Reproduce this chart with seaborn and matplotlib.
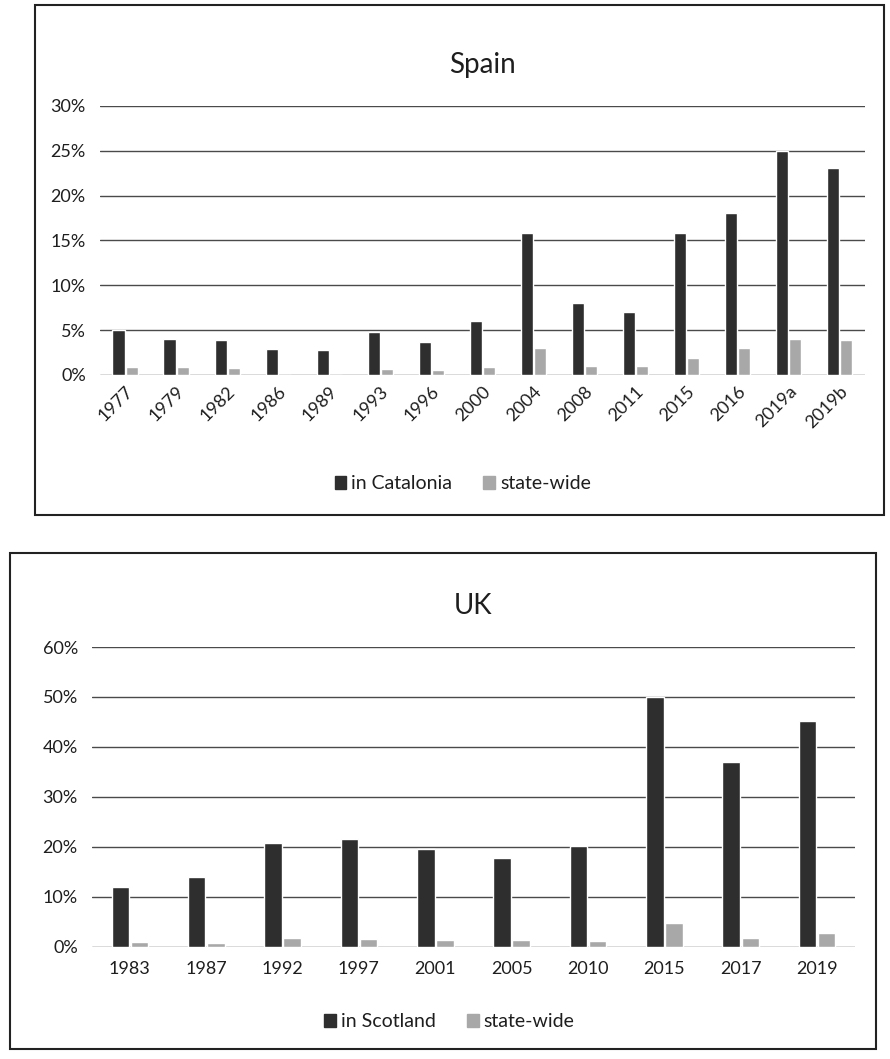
import matplotlib
matplotlib.use("Agg")
import matplotlib.pyplot as plt
import matplotlib.patches as mpatches
import seaborn as sns
import pandas as pd
from matplotlib.ticker import FuncFormatter, MultipleLocator

# ---- data ----
spain_years = ["1977", "1979", "1982", "1986", "1989", "1993", "1996", "2000",
               "2004", "2008", "2011", "2015", "2016", "2019a", "2019b"]
spain_catalonia = [5.0, 4.0, 3.9, 2.9, 2.8, 4.8, 3.7, 6.0,
                   15.8, 8.0, 7.0, 15.8, 18.0, 25.0, 23.1]
spain_statewide = [0.9, 0.9, 0.8, 0.0, 0.0, 0.7, 0.5, 0.9,
                   3.0, 1.0, 1.0, 1.9, 3.0, 4.0, 3.9]

uk_years = ["1983", "1987", "1992", "1997", "2001", "2005", "2010", "2015", "2017", "2019"]
uk_scotland = [12.0, 14.0, 20.8, 21.6, 19.6, 17.8, 20.2, 50.0, 37.0, 45.2]
uk_statewide = [1.0, 0.8, 1.8, 1.6, 1.4, 1.3, 1.1, 4.7, 1.8, 2.7]

spain_series = ["in Catalonia", "state-wide"]
uk_series = ["in Scotland", "state-wide"]

DARK = "#2e2e2e"
LIGHT = "#a8a8a8"
GRID = "#4a4a4a"
TXT = "#1e1e1e"

sns.set_theme(style="white")
plt.rcParams["font.family"] = ["Lato", "DejaVu Sans"]

fig = plt.figure(figsize=(8.90, 10.59), dpi=100)
fig.patch.set_facecolor("white")

def long_df(years, a, b, names):
    return pd.DataFrame({
        "year": years + years,
        "value": a + b,
        "series": [names[0]] * len(years) + [names[1]] * len(years),
    })

def style_axes(ax, ymax, step):
    ax.set_ylim(0, ymax)
    ax.yaxis.set_major_locator(MultipleLocator(step))
    ax.yaxis.set_major_formatter(FuncFormatter(lambda v, p: f"{v:.0f}%"))
    ax.grid(axis="y", color=GRID, linewidth=1.0)
    ax.set_axisbelow(True)
    for s in ax.spines.values():
        s.set_visible(False)
    ax.set_xlabel("")
    ax.set_ylabel("")
    ax.tick_params(axis="both", length=0, labelsize=13, colors=TXT, pad=10)

# ---- Spain ----
ax1 = fig.add_axes([0.112, 0.646, 0.860, 0.254])
df1 = long_df(spain_years, spain_catalonia, spain_statewide, spain_series)
sns.barplot(data=df1, x="year", y="value", hue="series",
            palette=[DARK, LIGHT], width=0.52, gap=0.08, ax=ax1,
            saturation=1, errorbar=None)
style_axes(ax1, 30, 5)
ax1.set_xlim(-0.5, len(spain_years) - 0.5)
for lab in ax1.get_xticklabels():
    lab.set_rotation(45)
    lab.set_ha("right")
    lab.set_rotation_mode("anchor")
ax1.tick_params(axis="x", pad=6)
ax1.set_title("Spain", fontsize=20, color=TXT, pad=24)
ax1.legend_.remove()
h1 = [mpatches.Patch(color=DARK), mpatches.Patch(color=LIGHT)]
fig.legend(h1, spain_series, loc="center", bbox_to_anchor=(0.52, 0.543),
           ncol=2, frameon=False, fontsize=14, handlelength=0.6, handleheight=0.6,
           handletextpad=0.25, columnspacing=1.6, labelcolor=TXT)

# ---- UK ----
ax2 = fig.add_axes([0.103, 0.106, 0.858, 0.283])
df2 = long_df(uk_years, uk_scotland, uk_statewide, uk_series)
sns.barplot(data=df2, x="year", y="value", hue="series",
            palette=[DARK, LIGHT], width=0.50, gap=0.08, ax=ax2,
            saturation=1, errorbar=None)
style_axes(ax2, 60, 10)
ax2.set_xlim(-0.5, len(uk_years) - 0.5)
ax2.set_title("UK", fontsize=20, color=TXT, pad=24)
ax2.legend_.remove()
h2 = [mpatches.Patch(color=DARK), mpatches.Patch(color=LIGHT)]
fig.legend(h2, uk_series, loc="center", bbox_to_anchor=(0.505, 0.035),
           ncol=2, frameon=False, fontsize=14, handlelength=0.6, handleheight=0.6,
           handletextpad=0.25, columnspacing=1.6, labelcolor=TXT)

# ---- panel frames ----
fig.add_artist(mpatches.Rectangle((0.039, 0.514), 0.954, 0.481, transform=fig.transFigure,
                                  fill=False, edgecolor="#222222", linewidth=1.5))
fig.add_artist(mpatches.Rectangle((0.011, 0.009), 0.973, 0.469, transform=fig.transFigure,
                                  fill=False, edgecolor="#222222", linewidth=1.5))

fig.savefig("out.png", dpi=100, facecolor="white")
